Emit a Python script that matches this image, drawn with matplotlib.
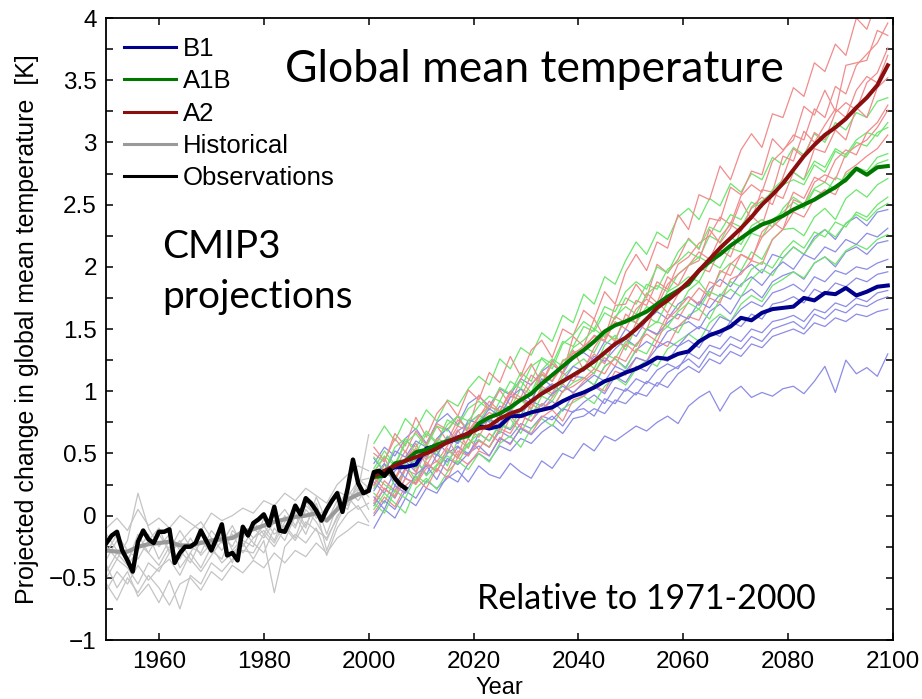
import numpy as np
import matplotlib
matplotlib.use('Agg')
import matplotlib.pyplot as plt
from matplotlib.ticker import MultipleLocator, FuncFormatter
from matplotlib.lines import Line2D

# ---- data ----
obs_years = np.arange(1950, 2008)
obs = [-0.22, -0.16, -0.13, -0.28, -0.36, -0.45, -0.21, -0.12, -0.19, -0.22,
       -0.13, -0.13, -0.11, -0.38, -0.30, -0.25, -0.25, -0.22, -0.12, -0.20,
       -0.28, -0.18, -0.07, -0.32, -0.30, -0.36, -0.09, -0.16, -0.06, -0.03,
       0.01, -0.08, 0.07, -0.12, -0.13, -0.04, 0.08, 0.01, 0.14, 0.10,
       0.04, -0.04, 0.05, 0.12, 0.18, 0.03, 0.22, 0.45, 0.26, 0.18,
       0.20, 0.35, 0.36, 0.32, 0.37, 0.30, 0.25, 0.22]

hist_years = np.arange(1950, 2001, 2)
hist_mean = [-0.28, -0.29, -0.29, -0.25, -0.23, -0.22, -0.21, -0.24, -0.24, -0.22,
             -0.20, -0.19, -0.18, -0.13, -0.11, -0.08, -0.05, -0.03, -0.01, 0.00,
             0.02, -0.04, 0.05, 0.13, 0.17, 0.20]
hist_members = [
    [-0.10, -0.02, -0.12, 0.05, -0.08, -0.02, -0.10, 0.00, -0.06, -0.12, 0.02, -0.04, 0.00,
     0.06, 0.02, 0.12, 0.08, 0.18, 0.12, 0.22, 0.16, 0.10, 0.25, 0.33, 0.40, 0.36],
    [-0.55, -0.68, -0.50, -0.62, -0.48, -0.58, -0.72, -0.55, -0.50, -0.60, -0.45, -0.52, -0.40,
     -0.46, -0.36, -0.42, -0.30, -0.38, -0.28, -0.33, -0.22, -0.30, -0.18, -0.12, -0.05, -0.08],
    [-0.35, -0.20, -0.38, -0.15, -0.30, -0.40, -0.25, -0.35, -0.18, -0.32, -0.22, -0.10, -0.28,
     -0.18, -0.05, -0.15, 0.00, -0.12, 0.05, -0.08, 0.10, -0.15, 0.08, 0.20, 0.12, 0.25],
    [-0.45, -0.30, -0.40, -0.28, -0.15, -0.35, -0.20, -0.42, -0.30, -0.15, -0.28, -0.35, -0.12,
     -0.20, -0.25, -0.02, -0.15, -0.08, -0.18, 0.05, -0.05, -0.20, 0.00, 0.10, 0.25, 0.15],
    [-0.25, -0.35, -0.20, 0.18, -0.10, -0.25, -0.15, -0.28, -0.38, -0.20, -0.30, -0.15, -0.25,
     -0.08, -0.18, -0.12, -0.22, -0.05, 0.02, -0.10, 0.15, -0.05, 0.12, 0.05, 0.30, 0.22],
    [-0.60, -0.45, -0.55, -0.40, -0.52, -0.42, -0.35, -0.48, -0.30, -0.42, -0.25, -0.38, -0.30,
     -0.22, -0.35, -0.20, -0.62, -0.25, -0.15, -0.22, -0.10, -0.32, -0.10, 0.02, 0.08, -0.05],
    [-0.15, -0.28, -0.35, -0.22, -0.30, -0.15, -0.28, -0.12, -0.25, -0.30, -0.12, -0.22, -0.08,
     -0.25, -0.10, -0.18, -0.05, 0.05, -0.08, 0.08, 0.00, 0.05, 0.15, 0.08, 0.20, 0.65],
    [-0.40, -0.58, -0.45, -0.65, -0.55, -0.70, -0.52, -0.75, -0.48, -0.55, -0.38, -0.45, -0.35,
     -0.28, -0.30, -0.15, -0.25, -0.10, -0.20, -0.05, -0.12, -0.18, -0.02, 0.15, 0.05, 0.10],
    [-0.30, -0.15, -0.28, -0.35, -0.20, -0.10, -0.30, -0.22, -0.12, -0.05, -0.18, -0.28, -0.15,
     -0.30, -0.18, -0.08, -0.20, 0.00, -0.10, 0.12, -0.02, 0.02, 0.20, 0.15, 0.28, 0.30],
    [-0.50, -0.35, -0.42, -0.55, -0.38, -0.45, -0.30, -0.20, -0.35, -0.45, -0.32, -0.20, -0.38,
     -0.12, -0.22, -0.30, -0.10, -0.20, 0.00, -0.15, 0.05, -0.28, -0.05, 0.12, 0.22, 0.05],
]

scen_years = np.arange(2001, 2100, 2)

b1_mean = [0.32, 0.34, 0.39, 0.39, 0.41, 0.54, 0.56, 0.59, 0.62, 0.66,
           0.72, 0.70, 0.72, 0.80, 0.80, 0.83, 0.85, 0.87, 0.92, 0.96,
           0.99, 1.03, 1.08, 1.11, 1.15, 1.18, 1.22, 1.27, 1.26, 1.30,
           1.32, 1.40, 1.45, 1.48, 1.52, 1.59, 1.57, 1.63, 1.66, 1.67,
           1.68, 1.75, 1.73, 1.79, 1.78, 1.83, 1.77, 1.80, 1.84, 1.85]
a1b_mean = [0.31, 0.32, 0.42, 0.44, 0.51, 0.53, 0.57, 0.60, 0.62, 0.64,
            0.74, 0.79, 0.82, 0.87, 0.93, 0.98, 1.06, 1.13, 1.20, 1.27,
            1.33, 1.40, 1.48, 1.53, 1.56, 1.60, 1.64, 1.70, 1.76, 1.81,
            1.86, 1.97, 2.04, 2.10, 2.17, 2.23, 2.29, 2.34, 2.37, 2.41,
            2.46, 2.50, 2.54, 2.59, 2.64, 2.70, 2.79, 2.74, 2.80, 2.81]
a2_mean = [0.32, 0.36, 0.40, 0.44, 0.47, 0.50, 0.54, 0.59, 0.63, 0.66,
           0.70, 0.72, 0.78, 0.82, 0.85, 0.92, 0.98, 1.03, 1.08, 1.13,
           1.18, 1.24, 1.31, 1.38, 1.43, 1.50, 1.58, 1.67, 1.73, 1.80,
           1.88, 1.97, 2.06, 2.15, 2.23, 2.31, 2.40, 2.50, 2.58, 2.67,
           2.78, 2.89, 2.98, 3.06, 3.12, 3.19, 3.28, 3.36, 3.46, 3.62]

b1_members = [
    [0.42, 0.55, 0.48, 0.62, 0.70, 0.58, 0.75, 0.82, 0.73, 0.90,
     0.96, 0.88, 1.02, 0.97, 1.10, 1.05, 1.16, 1.22, 1.14, 1.28,
     1.31, 1.25, 1.40, 1.36, 1.50, 1.44, 1.57, 1.64, 1.58, 1.70,
     1.76, 1.69, 1.82, 1.90, 1.84, 1.96, 2.02, 1.95, 2.10, 2.07,
     2.16, 2.10, 2.24, 2.30, 2.22, 2.35, 2.40, 2.33, 2.44, 2.46],
    [0.27, 0.18, 0.36, 0.44, 0.35, 0.52, 0.60, 0.50, 0.68, 0.74,
     0.81, 0.75, 0.88, 0.84, 0.95, 0.90, 1.00, 1.06, 0.99, 1.12,
     1.11, 1.05, 1.20, 1.26, 1.19, 1.33, 1.40, 1.35, 1.48, 1.52,
     1.56, 1.50, 1.64, 1.70, 1.62, 1.76, 1.82, 1.75, 1.88, 1.93,
     1.96, 1.90, 2.03, 2.08, 2.00, 2.12, 2.16, 2.10, 2.19, 2.21],
    [0.08, 0.22, 0.14, 0.30, 0.26, 0.41, 0.36, 0.50, 0.56, 0.48,
     0.66, 0.60, 0.73, 0.69, 0.80, 0.76, 0.86, 0.92, 0.84, 0.97,
     0.96, 1.04, 0.98, 1.12, 1.07, 1.20, 1.16, 1.28, 1.24, 1.36,
     1.41, 1.35, 1.48, 1.44, 1.56, 1.52, 1.62, 1.58, 1.70, 1.72,
     1.76, 1.71, 1.82, 1.78, 1.87, 1.84, 1.91, 1.88, 1.94, 1.96],
    [0.31, 0.42, 0.24, 0.38, 0.45, 0.33, 0.49, 0.43, 0.55, 0.50,
     0.61, 0.55, 0.68, 0.63, 0.74, 0.70, 0.80, 0.77, 0.86, 0.83,
     0.91, 0.97, 0.90, 1.03, 1.00, 1.10, 1.06, 1.17, 1.22, 1.18,
     1.31, 1.26, 1.37, 1.34, 1.44, 1.40, 1.50, 1.47, 1.56, 1.58,
     1.61, 1.56, 1.66, 1.63, 1.71, 1.68, 1.75, 1.72, 1.79, 1.81],
    [-0.10, 0.05, -0.02, 0.14, 0.08, 0.22, 0.18, 0.32, 0.27, 0.42,
     0.50, 0.44, 0.56, 0.52, 0.62, 0.58, 0.67, 0.73, 0.66, 0.78,
     0.80, 0.86, 0.82, 0.93, 0.90, 0.99, 0.96, 1.07, 1.03, 1.14,
     1.20, 1.15, 1.26, 1.22, 1.32, 1.28, 1.38, 1.35, 1.44, 1.47,
     1.50, 1.46, 1.55, 1.52, 1.59, 1.56, 1.62, 1.60, 1.64, 1.66],
    [0.00, 0.12, 0.05, 0.20, 0.14, 0.28, 0.22, 0.30, 0.36, 0.27,
     0.40, 0.33, 0.30, 0.42, 0.35, 0.30, 0.44, 0.38, 0.50, 0.46,
     0.58, 0.52, 0.64, 0.60, 0.66, 0.72, 0.68, 0.75, 0.80, 0.74,
     0.88, 0.95, 1.00, 0.84, 0.98, 1.04, 0.95, 0.99, 0.96, 1.02,
     1.04, 0.98, 1.08, 1.20, 0.99, 1.25, 1.14, 1.19, 1.12, 1.30],
    [0.46, 0.35, 0.52, 0.47, 0.60, 0.55, 0.48, 0.63, 0.58, 0.68,
     0.71, 0.77, 0.74, 0.85, 0.81, 0.92, 0.88, 0.98, 1.04, 0.99,
     1.06, 1.13, 1.08, 1.20, 1.16, 1.27, 1.24, 1.35, 1.40, 1.36,
     1.46, 1.52, 1.48, 1.60, 1.56, 1.66, 1.72, 1.68, 1.79, 1.82,
     1.86, 1.80, 1.92, 1.88, 1.97, 1.94, 2.00, 1.98, 2.03, 2.06],
    [0.20, 0.33, 0.41, 0.30, 0.52, 0.47, 0.62, 0.70, 0.58, 0.77,
     0.74, 0.86, 0.80, 0.95, 1.02, 0.92, 1.10, 1.04, 1.08, 1.20,
     1.16, 1.28, 1.24, 1.34, 1.42, 1.36, 1.50, 1.46, 1.55, 1.62,
     1.58, 1.72, 1.67, 1.78, 1.74, 1.86, 1.92, 1.85, 1.96, 2.04,
     1.98, 2.10, 2.06, 2.16, 2.12, 2.22, 2.18, 2.27, 2.24, 2.31],
    [0.15, 0.05, 0.24, 0.18, 0.33, 0.40, 0.29, 0.46, 0.41, 0.50,
     0.56, 0.48, 0.62, 0.58, 0.70, 0.65, 0.74, 0.80, 0.72, 0.84,
     0.86, 0.80, 0.94, 0.90, 1.02, 0.97, 1.08, 1.04, 1.15, 1.20,
     1.26, 1.19, 1.32, 1.28, 1.38, 1.34, 1.44, 1.40, 1.50, 1.53,
     1.56, 1.50, 1.62, 1.58, 1.66, 1.63, 1.70, 1.68, 1.73, 1.76],
]

a1b_members = [
    [0.58, 0.72, 0.60, 0.78, 0.69, 0.85, 0.76, 0.93, 0.88, 1.02,
     1.12, 1.05, 1.26, 1.18, 1.35, 1.29, 1.47, 1.40, 1.61, 1.55,
     1.78, 1.70, 1.92, 1.86, 2.05, 2.20, 2.10, 2.28, 2.22, 2.40,
     2.47, 2.38, 2.55, 2.49, 2.67, 2.60, 2.75, 2.70, 2.88, 2.82,
     2.96, 2.90, 3.07, 3.00, 3.16, 3.10, 3.24, 3.20, 3.33, 3.36],
    [0.38, 0.52, 0.41, 0.60, 0.55, 0.68, 0.59, 0.77, 0.72, 0.86,
     0.92, 0.85, 1.03, 0.98, 1.15, 1.08, 1.27, 1.22, 1.40, 1.36,
     1.52, 1.48, 1.63, 1.58, 1.75, 1.70, 1.86, 1.82, 1.98, 2.04,
     2.12, 2.07, 2.25, 2.20, 2.36, 2.32, 2.47, 2.53, 2.60, 2.66,
     2.70, 2.66, 2.82, 2.76, 2.93, 2.88, 3.00, 2.97, 3.08, 3.12],
    [0.22, 0.35, 0.29, 0.46, 0.38, 0.55, 0.49, 0.64, 0.60, 0.74,
     0.81, 0.76, 0.92, 0.86, 1.02, 0.98, 1.13, 1.08, 1.25, 1.28,
     1.36, 1.31, 1.47, 1.42, 1.58, 1.55, 1.68, 1.64, 1.80, 1.85,
     1.92, 1.88, 2.04, 1.99, 2.15, 2.12, 2.27, 2.24, 2.38, 2.44,
     2.52, 2.47, 2.62, 2.58, 2.72, 2.68, 2.80, 2.77, 2.88, 2.91],
    [0.18, 0.10, 0.30, 0.42, 0.28, 0.45, 0.52, 0.40, 0.61, 0.55,
     0.72, 0.78, 0.66, 0.84, 0.93, 0.85, 1.02, 0.96, 1.12, 1.20,
     1.26, 1.18, 1.37, 1.45, 1.33, 1.52, 1.60, 1.55, 1.72, 1.66,
     1.81, 1.88, 1.77, 1.95, 2.03, 1.97, 2.12, 2.06, 2.22, 2.30,
     2.31, 2.25, 2.40, 2.47, 2.38, 2.55, 2.62, 2.56, 2.66, 2.71],
    [0.33, 0.25, 0.19, 0.38, 0.45, 0.32, 0.41, 0.52, 0.47, 0.58,
     0.61, 0.55, 0.70, 0.78, 0.66, 0.82, 0.90, 0.85, 1.00, 1.07,
     1.11, 1.05, 1.20, 1.26, 1.18, 1.34, 1.30, 1.45, 1.52, 1.47,
     1.61, 1.66, 1.58, 1.74, 1.82, 1.76, 1.90, 1.98, 1.93, 2.07,
     2.16, 2.10, 2.22, 2.30, 2.24, 2.35, 2.42, 2.37, 2.46, 2.51],
    [0.05, 0.18, 0.10, 0.02, 0.22, 0.30, 0.21, 0.35, 0.44, 0.37,
     0.50, 0.43, 0.58, 0.64, 0.55, 0.70, 0.78, 0.72, 0.86, 0.91,
     0.96, 0.90, 1.04, 1.11, 1.05, 1.18, 1.25, 1.20, 1.34, 1.40,
     1.46, 1.40, 1.55, 1.62, 1.56, 1.70, 1.77, 1.72, 1.85, 1.90,
     1.96, 1.91, 2.03, 2.08, 2.02, 2.13, 2.18, 2.14, 2.22, 2.26],
    [0.47, 0.36, 0.55, 0.62, 0.50, 0.66, 0.58, 0.73, 0.80, 0.68,
     0.76, 0.88, 0.83, 1.00, 1.08, 0.99, 1.17, 1.26, 1.20, 1.35,
     1.41, 1.50, 1.44, 1.60, 1.68, 1.62, 1.78, 1.85, 1.80, 1.94,
     2.01, 2.08, 2.03, 2.17, 2.24, 2.18, 2.33, 2.38, 2.32, 2.47,
     2.56, 2.50, 2.63, 2.68, 2.62, 2.74, 2.80, 2.75, 2.83, 2.86],
    [0.35, 0.48, 0.40, 0.58, 0.66, 0.55, 0.72, 0.68, 0.80, 0.76,
     0.88, 0.96, 0.92, 1.08, 1.02, 1.20, 1.26, 1.18, 1.38, 1.45,
     1.56, 1.50, 1.68, 1.64, 1.80, 1.88, 1.82, 2.00, 1.95, 2.12,
     2.22, 2.15, 2.32, 2.28, 2.42, 2.38, 2.52, 2.48, 2.62, 2.70,
     2.76, 2.70, 2.85, 2.80, 2.95, 2.90, 3.02, 3.08, 3.05, 3.16],
    [0.10, 0.02, 0.20, 0.14, 0.32, 0.26, 0.40, 0.48, 0.42, 0.58,
     0.66, 0.60, 0.74, 0.70, 0.85, 0.80, 0.96, 0.92, 1.06, 1.14,
     1.20, 1.14, 1.30, 1.26, 1.40, 1.36, 1.50, 1.56, 1.52, 1.64,
     1.71, 1.66, 1.80, 1.76, 1.88, 1.84, 1.98, 2.04, 1.99, 2.12,
     2.21, 2.15, 2.28, 2.24, 2.36, 2.32, 2.44, 2.40, 2.50, 2.56],
]

a2_members = [
    [0.50, 0.43, 0.66, 0.56, 0.79, 0.63, 0.82, 0.92, 0.80, 1.01,
     0.93, 1.15, 1.07, 1.28, 1.12, 1.33, 1.41, 1.27, 1.50, 1.45,
     1.65, 1.58, 1.80, 1.70, 1.96, 2.10, 1.97, 2.20, 2.15, 2.42,
     2.30, 2.58, 2.54, 2.81, 2.70, 2.94, 3.07, 2.96, 3.23, 3.20,
     3.44, 3.37, 3.64, 3.57, 3.79, 3.70, 4.00, 3.91, 4.15, 4.20],
    [0.24, 0.41, 0.38, 0.52, 0.35, 0.57, 0.72, 0.60, 0.77, 0.70,
     0.97, 0.85, 1.01, 0.89, 1.10, 1.22, 1.06, 1.25, 1.14, 1.44,
     1.36, 1.58, 1.43, 1.69, 1.70, 1.86, 1.75, 2.02, 1.95, 2.06,
     2.23, 2.14, 2.39, 2.37, 2.64, 2.58, 2.77, 2.74, 3.03, 2.94,
     3.02, 3.29, 3.22, 3.42, 3.25, 3.62, 3.64, 3.66, 3.90, 3.86],
    [0.30, 0.21, 0.16, 0.37, 0.33, 0.57, 0.43, 0.56, 0.69, 0.54,
     0.75, 0.83, 0.78, 0.96, 0.93, 0.89, 1.16, 1.08, 1.20, 1.33,
     1.17, 1.35, 1.48, 1.40, 1.62, 1.55, 1.79, 1.71, 1.92, 1.85,
     2.01, 2.05, 2.30, 2.19, 2.31, 2.53, 2.38, 2.62, 2.60, 2.89,
     2.85, 3.09, 3.00, 3.14, 3.27, 3.20, 3.42, 3.53, 3.48, 3.70],
    [0.35, 0.47, 0.28, 0.45, 0.58, 0.40, 0.55, 0.62, 0.48, 0.71,
     0.63, 0.79, 0.70, 0.88, 0.95, 0.86, 1.04, 0.98, 1.15, 1.08,
     1.19, 1.30, 1.22, 1.41, 1.36, 1.55, 1.49, 1.72, 1.63, 1.78,
     1.87, 1.99, 1.96, 2.14, 2.08, 2.30, 2.41, 2.33, 2.59, 2.55,
     2.76, 2.70, 2.95, 2.92, 3.10, 3.02, 3.28, 3.20, 3.44, 3.52],
    [0.12, 0.28, 0.20, 0.38, 0.26, 0.43, 0.35, 0.54, 0.46, 0.62,
     0.53, 0.66, 0.59, 0.80, 0.71, 0.90, 0.84, 0.95, 1.06, 0.98,
     1.08, 1.15, 1.27, 1.20, 1.38, 1.31, 1.50, 1.45, 1.62, 1.58,
     1.72, 1.83, 1.76, 1.97, 1.93, 2.10, 2.05, 2.28, 2.36, 2.30,
     2.54, 2.50, 2.68, 2.74, 2.70, 2.91, 2.97, 3.02, 3.12, 3.26],
    [0.02, 0.15, 0.07, 0.24, 0.31, 0.22, 0.38, 0.30, 0.47, 0.41,
     0.52, 0.48, 0.63, 0.57, 0.71, 0.66, 0.79, 0.85, 0.76, 0.93,
     0.96, 1.05, 1.00, 1.16, 1.13, 1.27, 1.24, 1.40, 1.36, 1.52,
     1.60, 1.57, 1.75, 1.71, 1.90, 1.94, 2.05, 2.02, 2.22, 2.30,
     2.44, 2.40, 2.55, 2.62, 2.58, 2.76, 2.82, 2.89, 2.95, 3.06],
    [0.55, 0.44, 0.62, 0.51, 0.68, 0.57, 0.74, 0.69, 0.80, 0.66,
     0.79, 0.92, 0.84, 1.00, 0.95, 1.13, 1.06, 1.22, 1.15, 1.31,
     1.34, 1.45, 1.41, 1.60, 1.55, 1.73, 1.69, 1.88, 1.82, 2.02,
     2.08, 2.19, 2.25, 2.40, 2.34, 2.57, 2.66, 2.60, 2.85, 2.93,
     3.06, 3.02, 3.27, 3.20, 3.45, 3.39, 3.62, 3.71, 3.80, 3.96],
    [0.25, 0.36, 0.30, 0.46, 0.54, 0.45, 0.62, 0.58, 0.72, 0.68,
     0.80, 0.88, 0.84, 0.98, 0.92, 1.06, 1.14, 1.08, 1.24, 1.30,
     1.36, 1.44, 1.40, 1.56, 1.50, 1.66, 1.74, 1.68, 1.86, 1.94,
     2.01, 2.12, 2.06, 2.24, 2.34, 2.28, 2.48, 2.56, 2.50, 2.72,
     2.95, 2.88, 3.08, 3.02, 3.24, 3.32, 3.26, 3.48, 3.56, 3.76],
    [0.10, 0.22, 0.15, 0.30, 0.25, 0.38, 0.44, 0.36, 0.52, 0.48,
     0.60, 0.55, 0.70, 0.66, 0.80, 0.76, 0.90, 0.86, 1.00, 1.04,
     1.10, 1.18, 1.14, 1.28, 1.24, 1.38, 1.46, 1.40, 1.58, 1.66,
     1.76, 1.70, 1.88, 1.84, 2.02, 2.10, 2.06, 2.24, 2.32, 2.40,
     2.60, 2.55, 2.72, 2.68, 2.86, 2.94, 2.90, 3.08, 3.16, 3.30],
]

legend_labels = ['B1', 'A1B', 'A2', 'Historical', 'Observations']

# ---- colours ----
c_b1, c_a1b, c_a2 = '#00008c', '#007800', '#8c0f0f'
c_b1_m, c_a1b_m, c_a2_m = '#8c8ce6', '#6ee66e', '#f08c8c'
c_hist, c_hist_m = '#c4c4c4', '#9a9a9a'

plt.rcParams['font.family'] = ['Liberation Sans', 'DejaVu Sans']

fig = plt.figure(figsize=(9.22, 6.99), dpi=100)
ax = fig.add_axes([0.1155, 0.0844, 0.8531, 0.8898])

# historical runs
for m in hist_members:
    ax.plot(hist_years, m, color=c_hist, lw=0.9)
ax.plot(hist_years, hist_mean, color=c_hist_m, lw=3)

# scenario runs, interleaved the way the models were plotted
for i in range(len(a2_members)):
    ax.plot(scen_years, b1_members[i], color=c_b1_m, lw=0.9)
    ax.plot(scen_years, a1b_members[i], color=c_a1b_m, lw=0.9)
    ax.plot(scen_years, a2_members[i], color=c_a2_m, lw=0.9)

ax.plot(scen_years, b1_mean, color=c_b1, lw=2.9)
ax.plot(scen_years, a1b_mean, color=c_a1b, lw=2.9)
ax.plot(scen_years, a2_mean, color=c_a2, lw=2.9)
ax.plot(obs_years, obs, color='black', lw=3.2)

ax.set_xlim(1950, 2100)
ax.set_ylim(-1, 4)
ax.set_xticks(np.arange(1960, 2101, 20))
ax.yaxis.set_major_locator(MultipleLocator(0.5))
ax.yaxis.set_minor_locator(MultipleLocator(0.25))
ax.yaxis.set_major_formatter(FuncFormatter(lambda v, p: f'{v:g}'.replace('-', '\u2212')))
ax.tick_params(which='both', direction='in', top=True, right=True,
               length=5, width=1.1, labelsize=17.5)
ax.tick_params(axis='x', pad=8)
ax.tick_params(axis='y', pad=7)
for s in ax.spines.values():
    s.set_linewidth(1.3)

ax.set_xlabel('Year', fontsize=17, labelpad=3)
ax.set_ylabel('Projected change in global mean temperature  [K]', fontsize=18)
ax.yaxis.set_label_coords(-0.086, 0.5)

handles = [Line2D([], [], color=c, lw=2.2)
           for c in [c_b1, c_a1b, c_a2, c_hist_m, 'black']]
ax.legend(handles, legend_labels, loc='upper left', bbox_to_anchor=(0.003, 0.994),
          frameon=False, fontsize=18.5, handlelength=2.0, handletextpad=0.28,
          labelspacing=0.32, borderpad=0.6, borderaxespad=0)

ax.text(0.227, 0.897, 'Global mean temperature', transform=ax.transAxes,
        fontsize=32, family='Lato', va='baseline')
ax.text(0.0706, 0.614, 'CMIP3', transform=ax.transAxes,
        fontsize=28, family='Lato', va='baseline')
ax.text(0.0706, 0.534, 'projections', transform=ax.transAxes,
        fontsize=28, family='Lato', va='baseline')
ax.text(0.471, 0.0498, 'Relative to 1971-2000', transform=ax.transAxes,
        fontsize=24.5, family='Lato', va='baseline')

fig.savefig('out.png', dpi=100)
